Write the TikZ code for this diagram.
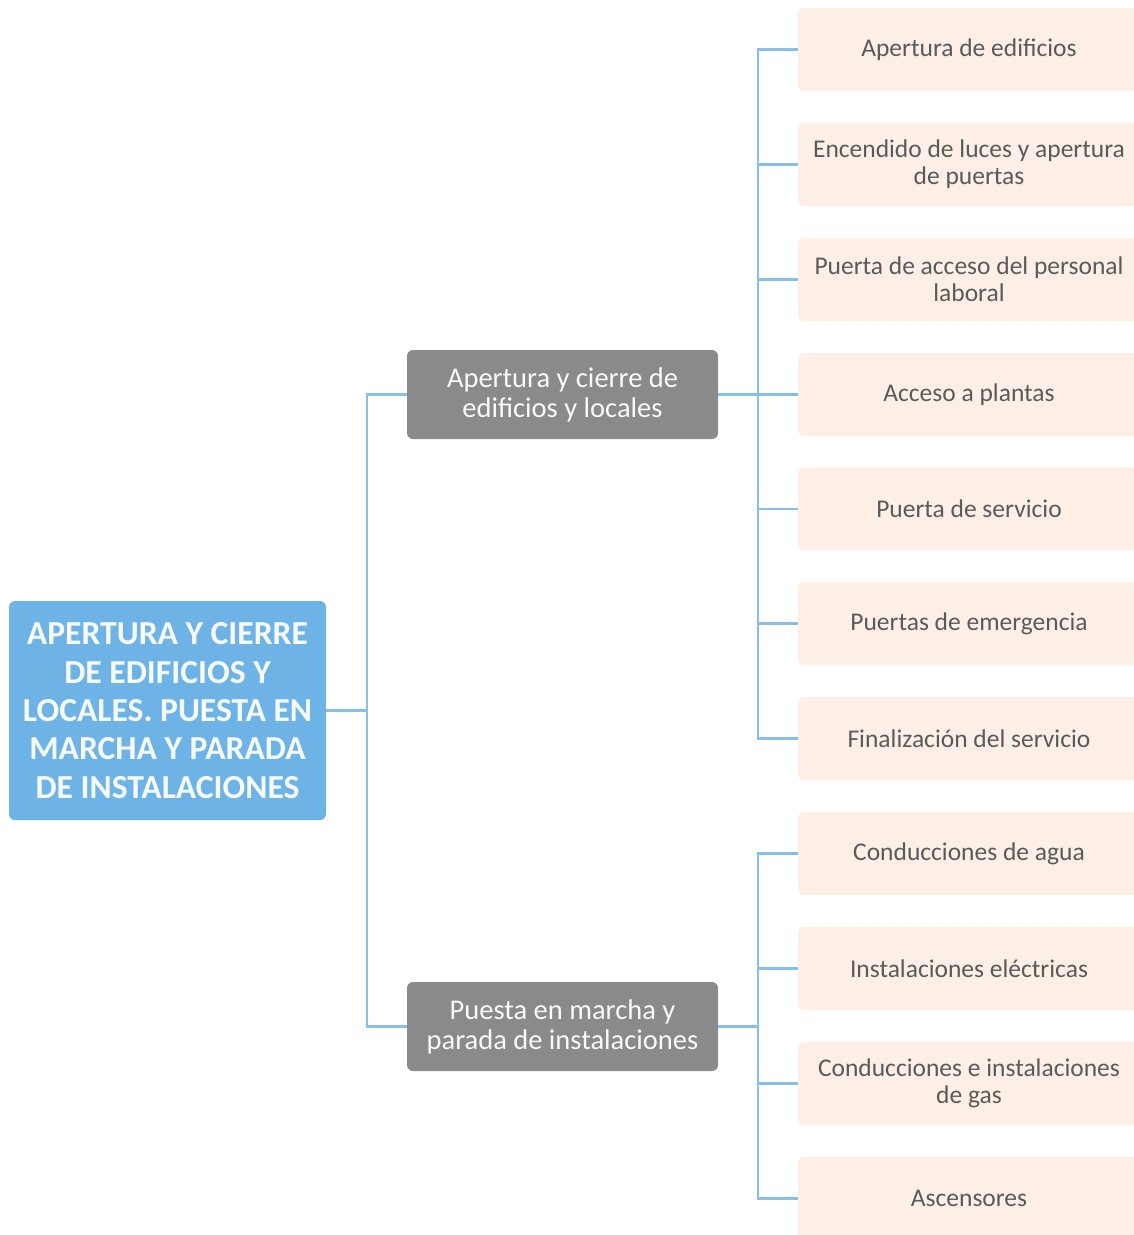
\documentclass[tikz,border=0pt]{standalone}
\usepackage{fontspec}
\setmainfont{Carlito}
\usetikzlibrary{positioning}
\definecolor{rootblue}{HTML}{6EB3E6}
\definecolor{midgray}{HTML}{8A8A8A}
\definecolor{leafpeach}{HTML}{FDEFE5}
\definecolor{leaftext}{HTML}{5A5A5A}
\definecolor{linkblue}{HTML}{86BFEB}
\begin{document}
\begin{tikzpicture}[x=1pt, y=-1pt,
  box/.style={align=center, rounded corners=6pt, inner sep=0pt},
  rootbox/.style={box, fill=rootblue, text=white!94!rootblue, font=\bfseries\fontsize{33.6}{38.3}\selectfont,
    minimum width=317pt, minimum height=219pt},
  midbox/.style={box, fill=midgray, text=white!95!midgray, font=\fontsize{28.5}{30}\selectfont,
    minimum width=311pt, minimum height=89pt},
  leafbox/.style={box, fill=leafpeach, text=leaftext, font=\fontsize{25.5}{27}\selectfont,
    minimum width=342pt, minimum height=83pt},
  link/.style={draw=linkblue, line width=2.2pt}]
  \useasboundingbox (0,0) rectangle (1134,1235);
  % --- root ---
  \node[rootbox] (root) at (167.5,710.5)
       {APERTURA Y CIERRE\\DE EDIFICIOS Y\\LOCALES. PUESTA EN\\MARCHA Y PARADA\\DE INSTALACIONES};
  % --- second level ---
  \node[midbox] (apert) at (562.5,394.5) {Apertura y cierre de\\edificios y locales};
  \node[midbox] (puesta) at (562.5,1026.5) {Puesta en marcha y\\parada de instalaciones};
  % --- leaves (apertura) ---
  \node[leafbox] (edif) at (969,49.5) {Apertura de edificios};
  \node[leafbox] (luces) at (969,164.5) {Encendido de luces y apertura\\de puertas};
  \node[leafbox] (personal) at (969,279.5) {Puerta de acceso del personal\\laboral};
  \node[leafbox] (plantas) at (969,394.5) {Acceso a plantas};
  \node[leafbox] (servicio) at (969,509) {Puerta de servicio};
  \node[leafbox] (emerg) at (969,623.5) {Puertas de emergencia};
  \node[leafbox] (final) at (969,738.5) {Finalización del servicio};
  % --- leaves (instalaciones) ---
  \node[leafbox] (agua) at (969,853.5) {Conducciones de agua};
  \node[leafbox] (elec) at (969,968.5) {Instalaciones eléctricas};
  \node[leafbox] (gas) at (969,1083.5) {Conducciones e instalaciones\\de gas};
  \node[leafbox] (ascens) at (969,1198.5) {Ascensores};
  % --- junctions ---
  \coordinate (j0) at (367,710.5);
  \coordinate (j1) at (758,394.5);
  \coordinate (j2) at (758,1026.5);
  % --- connectors ---
  \draw[link] (root.east) -- (j0);
  \draw[link] (j0) |- (apert.west);
  \draw[link] (j0) |- (puesta.west);
  \draw[link] (apert.east) -- (j1);
  \draw[link] (j1) |- (edif.west);
  \draw[link] (j1) |- (luces.west);
  \draw[link] (j1) |- (personal.west);
  \draw[link] (j1) |- (plantas.west);
  \draw[link] (j1) |- (servicio.west);
  \draw[link] (j1) |- (emerg.west);
  \draw[link] (j1) |- (final.west);
  \draw[link] (puesta.east) -- (j2);
  \draw[link] (j2) |- (agua.west);
  \draw[link] (j2) |- (elec.west);
  \draw[link] (j2) |- (gas.west);
  \draw[link] (j2) |- (ascens.west);
\end{tikzpicture}
\end{document}
